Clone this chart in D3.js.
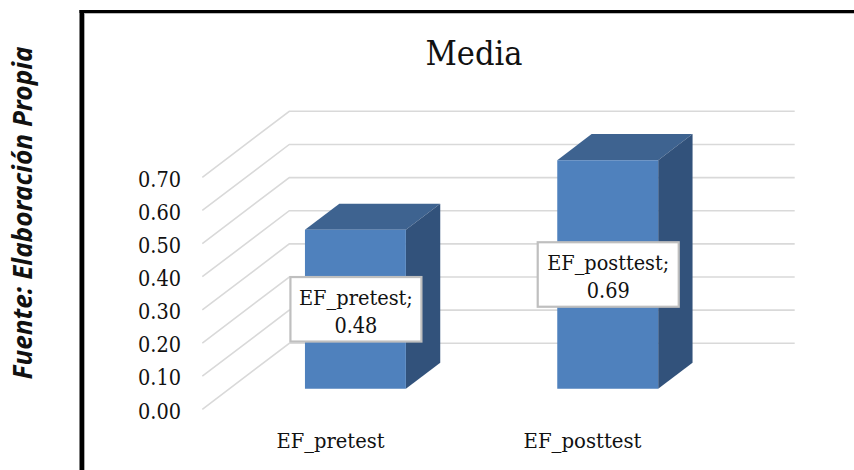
<!DOCTYPE html>
<html>
<head>
<meta charset="utf-8">
<script src="https://cdn.jsdelivr.net/npm/d3@7"></script>
<style>
html,body{margin:0;padding:0;background:#fff;}
svg{display:block;}
text{font-family:"DejaVu Serif Condensed","DejaVu Serif",serif;fill:#111;}
</style>
</head>
<body>
<svg id="chart" width="854" height="470"></svg>
<script>
const categories = ["EF_pretest", "EF_posttest"];
const values = [0.48, 0.69];
const valueLabels = ["0.48", "0.69"];
const tickValues = [0, 0.1, 0.2, 0.3, 0.4, 0.5, 0.6, 0.7];
const chartTitle = "Media";
const sourceNote = "Fuente: Elaboración Propia";

const svg = d3.select("#chart");

// Oblique projection: depth 0 is the front edge of the floor, depth 1 the back wall.
const depthX = 87, depthY = -66;
const px = (x, d) => x + depthX * d;
const py = (y, d) => y + depthY * d;

const y = d3.scaleLinear().domain([0, 0.7]).range([409.3, 177.3]);
const x = d3.scaleBand().domain(categories).range([202.3, 706.9]).paddingInner(0.6).paddingOuter(0.3);
const barDepth = [0.31, 0.705];

// Page frame
svg.append("rect").attr("x", 84).attr("y", 13).attr("width", 770).attr("height", 1).attr("fill", "#bbb");
svg.append("rect").attr("x", 84).attr("y", 13).attr("width", 1).attr("height", 457).attr("fill", "#aaa");
svg.append("rect").attr("x", 79.5).attr("y", 10).attr("width", 4.5).attr("height", 460).attr("fill", "#000");
svg.append("rect").attr("x", 79.5).attr("y", 10).attr("width", 774.5).attr("height", 3).attr("fill", "#000");

// Source note, set vertically outside the frame
svg.append("text")
  .attr("transform", "translate(32,213) rotate(-90)")
  .attr("text-anchor", "middle")
  .style("font-family", '"Noto Sans",sans-serif')
  .style("font-weight", 700).style("font-style", "italic").style("font-size", "26px")
  .attr("textLength", 333).attr("lengthAdjust", "spacingAndGlyphs")
  .text(sourceNote);

svg.append("text").attr("x", 474).attr("y", 65).attr("text-anchor", "middle")
  .style("font-size", "34px").attr("textLength", 97).attr("lengthAdjust", "spacingAndGlyphs")
  .text(chartTitle);

// Gridlines run up the side wall, then across the back wall
const grid = d3.line();
svg.append("g").selectAll("path").data(tickValues).join("path")
  .attr("d", t => grid([
    [px(x.range()[0], 0), py(y(t), 0)],
    [px(x.range()[0], 1), py(y(t), 1)],
    [px(x.range()[1], 1) + 0.8, py(y(t), 1)]
  ]))
  .attr("fill", "none").attr("stroke", "#d9d9d9").attr("stroke-width", 1.6);

// Value axis labels
svg.append("g").selectAll("text").data(tickValues).join("text")
  .attr("x", 181).attr("y", t => y(t) + 9.3)
  .attr("text-anchor", "end")
  .style("font-size", "21.5px").attr("textLength", 43).attr("lengthAdjust", "spacingAndGlyphs")
  .text(t => d3.format(".2f")(t));

// Category labels
const categoryX = [330.5, 582.5];
svg.append("g").selectAll("text").data(categories).join("text")
  .attr("x", (c, i) => categoryX[i]).attr("y", 447.5)
  .attr("text-anchor", "middle")
  .style("font-size", "21px")
  .attr("textLength", (c, i) => [108, 118][i]).attr("lengthAdjust", "spacingAndGlyphs")
  .text(c => c);

// Bars: front, top and side faces
const bars = svg.append("g").selectAll("g").data(categories).join("g");
const [d0, d1] = barDepth;
const poly = pts => "M" + pts.map(p => p.join(",")).join("L") + "Z";
bars.append("path").attr("fill", "#3e6390").attr("d", (c, i) => {
  const a = x(c), b = a + x.bandwidth(), t = y(values[i]);
  return poly([[px(a, d0), py(t, d0)], [px(b, d0), py(t, d0)], [px(b, d1), py(t, d1)], [px(a, d1), py(t, d1)]]);
});
bars.append("path").attr("fill", "#32527b").attr("d", (c, i) => {
  const b = x(c) + x.bandwidth(), t = y(values[i]), z = y(0);
  return poly([[px(b, d0), py(t, d0)], [px(b, d1), py(t, d1)], [px(b, d1), py(z, d1)], [px(b, d0), py(z, d0)]]);
});
bars.append("path").attr("fill", "#4f81bd").attr("d", (c, i) => {
  const a = x(c), b = a + x.bandwidth(), t = y(values[i]), z = y(0);
  return poly([[px(a, d0), py(t, d0)], [px(b, d0), py(t, d0)], [px(b, d0), py(z, d0)], [px(a, d0), py(z, d0)]]);
});

// Data label callouts, centred on each bar at half its height
const boxW = [131, 141], boxH = 64.5;
const labels = svg.append("g").selectAll("g").data(categories).join("g")
  .attr("transform", (c, i) => {
    const cx = px(x(c) + x.bandwidth() / 2, d0);
    const cy = py((y(values[i]) + y(0)) / 2, d0);
    return `translate(${cx + 0.5},${cy})`;
  });
labels.append("rect")
  .attr("x", (c, i) => -boxW[i] / 2).attr("y", -boxH / 2)
  .attr("width", (c, i) => boxW[i]).attr("height", boxH)
  .attr("fill", "#fff").attr("stroke", "#bfbfbf").attr("stroke-width", 2.2);
labels.append("text").attr("text-anchor", "middle").attr("y", -4.5)
  .style("font-size", "21px")
  .attr("textLength", (c, i) => [114, 122][i]).attr("lengthAdjust", "spacingAndGlyphs")
  .text(c => c + ";");
labels.append("text").attr("text-anchor", "middle").attr("y", 23.7)
  .style("font-size", "21.5px").attr("textLength", 43).attr("lengthAdjust", "spacingAndGlyphs")
  .text((c, i) => valueLabels[i]);
</script>
</body>
</html>
